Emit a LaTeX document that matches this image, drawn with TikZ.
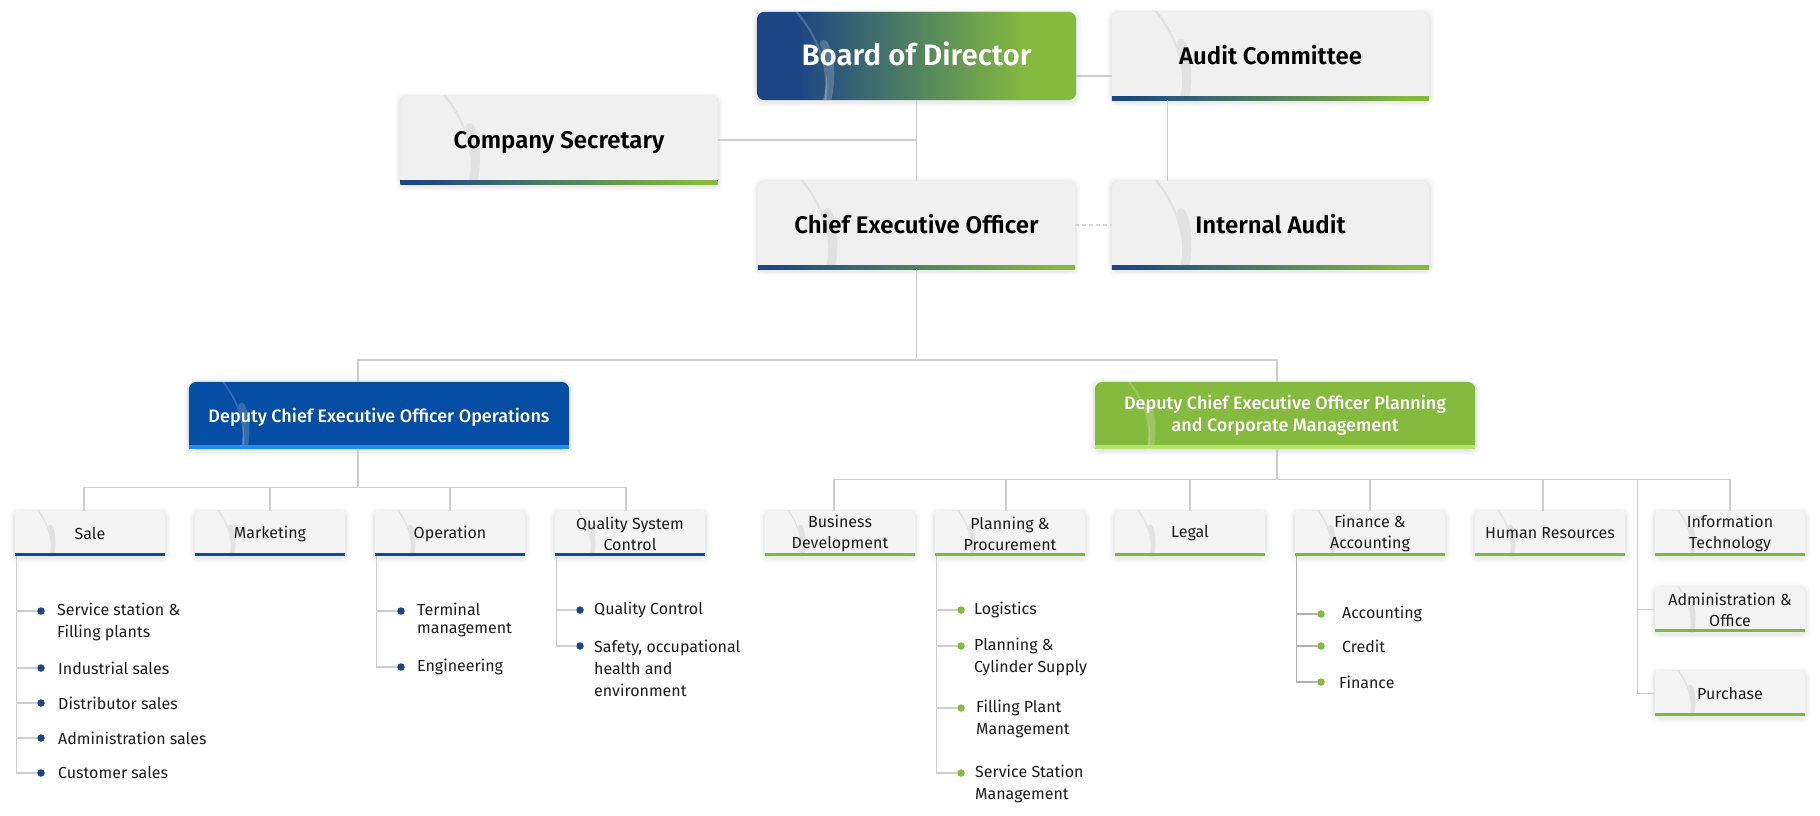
\documentclass[tikz,border=0pt]{standalone}
\usepackage{fontspec}
\setmainfont{Fira Sans}
\newfontfamily\fsemi{Fira Sans SemiBold}
\newfontfamily\fmed{Fira Sans Medium}
\usetikzlibrary{calc,backgrounds}

\definecolor{gblue}{HTML}{1B4585}
\definecolor{ggreen}{HTML}{84BA3E}
\definecolor{dblue}{HTML}{054EA3}
\definecolor{dbar}{HTML}{1E8FEF}
\definecolor{dgreen}{HTML}{84BA3E}
\definecolor{dgbar}{HTML}{B3E46C}
\definecolor{lblue}{HTML}{0A4B9C}
\definecolor{lgreen}{HTML}{7DB93F}
\definecolor{topgray}{HTML}{F0F0F0}
\definecolor{boxgray}{HTML}{F3F3F3}
\definecolor{arcgray}{HTML}{E1E1E1}
\definecolor{conngray}{HTML}{CDCDCD}
\definecolor{darkconn}{HTML}{B0B0B0}
\definecolor{txt}{HTML}{1C1C1C}

\pgfdeclarehorizontalshading{barshade}{100bp}{color(0bp)=(gblue); color(27bp)=(gblue); color(72bp)=(ggreen); color(100bp)=(ggreen)}
\pgfdeclarehorizontalshading{boardshade}{100bp}{color(0bp)=(gblue); color(31bp)=(gblue); color(67bp)=(ggreen); color(100bp)=(ggreen)}

% #1 name, #2 fill, #3 bar options, #4 height, #5 bar height, #6 arc options, #7 radius
\newcommand\boxbg[7]{%
\begin{scope}[on background layer]
  \foreach \s/\o in {5/0.018,3.5/0.025,2/0.035}{%
    \fill[black,opacity=\o,rounded corners=9] ($(#1.north west)+(-\s,-\s+1.5)$) rectangle ($(#1.south east)+(\s,\s+1.5)$);}
  \fill[#2,rounded corners=#7] (#1.north west) rectangle (#1.south east);
  \fill[#2] ($(#1.south west)+(0,-#7-1)$) rectangle (#1.south east);
  \begin{scope}
    \clip (#1.north west) rectangle (#1.south east);
    \draw[#6,line width=0.025*#4] ($(#1.north west)+(0.49*#4,-2)$) .. controls ($(#1.north west)+(0.75*#4,0.3*#4)$) and ($(#1.north west)+(0.86*#4,0.65*#4)$) .. ($(#1.north west)+(0.8*#4,1.05*#4)$);
    \draw[#6,line width=0.1*#4,line cap=round] ($(#1.north west)+(0.79*#4,0.36*#4)$) .. controls ($(#1.north west)+(0.88*#4,0.55*#4)$) and ($(#1.north west)+(0.87*#4,0.85*#4)$) .. ($(#1.north west)+(0.8*#4,1.1*#4)$);
  \end{scope}
  \fill[#3] ($(#1.south west)+(0,-#5)$) rectangle (#1.south east);
\end{scope}}

\tikzset{
  conn/.style={draw=conngray,line width=1.3},
  topbox/.style={minimum width=317,minimum height=88,inner sep=0,font=\fsemi\fontsize{24}{28}\selectfont,text=black},
  boardbox/.style={minimum width=319,minimum height=88,inner sep=0,font=\fsemi\fontsize{29.5}{34}\selectfont,text=white},
  depbox/.style={minimum width=380,minimum height=67,inner sep=0,align=center,font=\fmed\fontsize{18}{22}\selectfont,text=white},
  unitbox/.style={minimum width=150,minimum height=45,inner sep=0,align=center,font=\fontsize{16}{21}\selectfont,text=txt},
  item/.style={anchor=west,inner sep=0,align=left,font=\fontsize{16}{22}\selectfont,text=txt},
  bdot/.style={circle,fill=gblue,minimum size=7.5,inner sep=0},
  gdot/.style={circle,fill=ggreen,minimum size=7.5,inner sep=0},
}

\begin{document}
\begin{tikzpicture}[x=1pt,y=-1pt]
\useasboundingbox (0,0) rectangle (1820,815);
\begin{scope}[on background layer]
  \fill[white] (0,0) rectangle (1820,815);
\end{scope}

% ---------- top level ----------
\node[boardbox] (board) at (916.5,56) {\raisebox{4pt}{Board of Director}};
\begin{scope}[on background layer]
  \foreach \s/\o in {5/0.018,3.5/0.025,2/0.035}{%
    \fill[black,opacity=\o,rounded corners=10] ($(board.north west)+(-\s,-\s+1.5)$) rectangle ($(board.south east)+(\s,\s+1.5)$);}
  \shade[shading=boardshade,rounded corners=8] (board.north west) rectangle (board.south east);
  \begin{scope}
    \clip[rounded corners=8] (board.north west) rectangle (board.south east);
    \draw[white,opacity=0.2,line width=2] ($(board.north west)+(38,-2)$) .. controls ($(board.north west)+(62,26)$) and ($(board.north west)+(74,57)$) .. ($(board.north west)+(68,92)$);
    \draw[white,opacity=0.2,line width=8,line cap=round] ($(board.north west)+(67,32)$) .. controls ($(board.north west)+(76,48)$) and ($(board.north west)+(75,75)$) .. ($(board.north west)+(68,97)$);
  \end{scope}
\end{scope}

\node[topbox] (audit) at (1270.5,56) {\raisebox{2pt}{Audit Committee}};
\boxbg{audit}{topgray}{shading=barshade}{88}{4}{draw=arcgray}{8}
\node[topbox,text depth=0pt] (cs) at (559,140) {Company Secretary};
\boxbg{cs}{topgray}{shading=barshade}{88}{4}{draw=arcgray}{8}
\node[topbox] (ceo) at (916.5,225) {\raisebox{2pt}{Chief Executive Officer}};
\boxbg{ceo}{topgray}{shading=barshade}{88}{4}{draw=arcgray}{8}
\node[topbox] (ia) at (1270.5,225) {\raisebox{2pt}{Internal Audit}};
\boxbg{ia}{topgray}{shading=barshade}{88}{4}{draw=arcgray}{8}

% ---------- deputies ----------
\node[depbox,text depth=0pt] (dops) at (379,415.5) {Deputy Chief Executive Officer Operations};
\boxbg{dops}{dblue}{dbar}{67}{4}{draw=white,draw opacity=0.18}{8}
\node[depbox] (dplan) at (1285,415.5) {Deputy Chief Executive Officer Planning\\and Corporate Management};
\boxbg{dplan}{dgreen}{dgbar}{67}{4}{draw=white,draw opacity=0.18}{8}

% ---------- operations units ----------
\node[unitbox] (sale) at (90,533.5) {Sale};
\node[unitbox] (mkt) at (270,533.5) {Marketing};
\node[unitbox] (op) at (450,533.5) {Operation};
\node[unitbox] (qsc) at (630,533.5) {Quality System\\Control};
\foreach \n in {sale,mkt,op,qsc}{\boxbg{\n}{boxgray}{lblue}{45}{3}{draw=arcgray}{6}}

% ---------- planning units ----------
\node[unitbox] (bd) at (840,533.5) {Business\\Development};
\node[unitbox] (pp) at (1010,533.5) {Planning \&\\Procurement};
\node[unitbox] (legal) at (1190,533.5) {Legal};
\node[unitbox] (fin) at (1370,533.5) {Finance \&\\Accounting};
\node[unitbox] (hr) at (1550,533.5) {Human Resources};
\node[unitbox] (it) at (1730,533.5) {Information\\Technology};
\node[unitbox] (admin) at (1730,609.5) {Administration \&\\Office};
\node[unitbox] (pur) at (1730,693.5) {Purchase};
\foreach \n in {bd,pp,legal,fin,hr,it,admin,pur}{\boxbg{\n}{boxgray}{lgreen}{45}{3}{draw=arcgray}{6}}

% ---------- top connectors ----------
\draw[conn] (board.south) -- (ceo.north);
\draw[conn] (cs.east) -- (cs.east -| board.south);
\draw[conn] ([yshift=-20pt]board.east) -- ([yshift=-20pt]audit.west);
\draw[conn] ($(audit.south west)+(56,0)$) -- ($(ia.north west)+(56,0)$);
\draw[conn,draw=conngray!80,dash pattern=on 4pt off 3pt] (ceo.east) -- (ia.west);

\coordinate (hub) at (916.5,360);
\coordinate (opsTop) at ($(dops.north)+(-21,0)$);
\coordinate (planTop) at ($(dplan.north)+(-8,0)$);
\draw[conn] (ceo.south) -- (hub);
\draw[conn] (opsTop) |- (hub) -| (planTop);

% ---------- level 3 connectors ----------
\coordinate (lh) at ($(dops.south)+(-21,38.5)$);
\draw[conn] ($(dops.south)+(-21,0)$) -- (lh);
\coordinate (saleTop) at ($(sale.north)+(-6,0)$);
\coordinate (qscTop) at ($(qsc.north)+(-4,0)$);
\draw[conn] (saleTop) -- (saleTop |- lh) -- (qscTop |- lh) -- (qscTop);
\draw[conn] (mkt.north) -- (mkt.north |- lh);
\draw[conn] (op.north) -- (op.north |- lh);

\coordinate (rh) at ($(dplan.south)+(-8,30)$);
\draw[conn] ($(dplan.south)+(-8,0)$) -- (rh);
\coordinate (bdTop) at ($(bd.north)+(-6,0)$);
\coordinate (hrTop) at ($(hr.north)+(-7,0)$);
\coordinate (ppTop) at ($(pp.north)+(-4,0)$);
\draw[conn] (bdTop) -- (bdTop |- rh) -- (it.north |- rh) -- (it.north);
\foreach \n in {ppTop,legal.north,fin.north,hrTop}{\draw[conn] (\n) -- (\n |- rh);}
\coordinate (colx) at ($(admin.west)+(-17,0)$);
\draw[conn] (colx |- rh) -- (colx |- pur.west) -- (pur.west);
\draw[conn] (colx) -- (admin.west);

% ---------- Sale items ----------
\coordinate (sv) at ($(sale.south west)+(1.5,0)$);
\node[bdot] (s1) at (41,611) {};
\node[bdot] (s2) at (41,668) {};
\node[bdot] (s3) at (41,703) {};
\node[bdot] (s4) at (41,738) {};
\node[bdot] (s5) at (41,773) {};
\node[item] (s1t) at (57,622) {Service station \&\\Filling plants};
\node[item] (s2t) at (58,668) {Industrial sales};
\node[item] (s3t) at (58,703) {Distributor sales};
\node[item] (s4t) at (58,738) {Administration sales};
\node[item] (s5t) at (58,773) {Customer sales};
\draw[conn] (sv) |- (s5);
\foreach \d in {s1,s2,s3,s4}{\draw[conn] (sv |- \d) -- (\d);}

% ---------- Operation items ----------
\coordinate (ov) at ($(op.south west)+(1.5,0)$);
\node[bdot] (o1) at (401,611) {};
\node[bdot] (o2) at (401,667) {};
\node[item,font=\fontsize{16}{18}\selectfont] (o1t) at (417,620) {Terminal\\management};
\node[item] (o2t) at (417,667) {Engineering};
\draw[conn] (ov) |- (o2);
\draw[conn] (ov |- o1) -- (o1);

% ---------- Quality items ----------
\coordinate (qv) at ($(qsc.south west)+(1.5,0)$);
\node[bdot] (q1) at (580,610) {};
\node[bdot] (q2) at (580,646) {};
\node[item] (q1t) at (594,610) {Quality Control};
\node[item] (q2t) at (594,668) {Safety, occupational\\health and\\environment};
\draw[conn] (qv) |- (q2);
\draw[conn] (qv |- q1) -- (q1);

% ---------- Planning & Procurement items ----------
\coordinate (pv) at ($(pp.south west)+(1.5,0)$);
\node[gdot] (p1) at (961,610) {};
\node[gdot] (p2) at (961,646) {};
\node[gdot] (p3) at (961,708) {};
\node[gdot] (p4) at (961,773) {};
\node[item] (p1t) at (974,610) {Logistics};
\node[item] (p2t) at (974,657) {Planning \&\\Cylinder Supply};
\node[item] (p3t) at (976,719) {Filling Plant\\Management};
\node[item] (p4t) at (975,784) {Service Station\\Management};
\draw[conn] (pv) |- (p4);
\foreach \d in {p1,p2,p3}{\draw[conn] (pv |- \d) -- (\d);}

% ---------- Finance items ----------
\coordinate (fv) at ($(fin.south west)+(2,0)$);
\node[gdot] (f1) at (1321,614) {};
\node[gdot] (f2) at (1321,646) {};
\node[gdot] (f3) at (1321,682) {};
\node[item] (f1t) at (1342,614) {Accounting};
\node[item] (f2t) at (1342,646) {Credit};
\node[item] (f3t) at (1339,682) {Finance};
\draw[conn,draw=darkconn] (fv) |- (f3);
\foreach \d in {f1,f2}{\draw[conn,draw=darkconn] (fv |- \d) -- (\d);}

\end{tikzpicture}
\end{document}
